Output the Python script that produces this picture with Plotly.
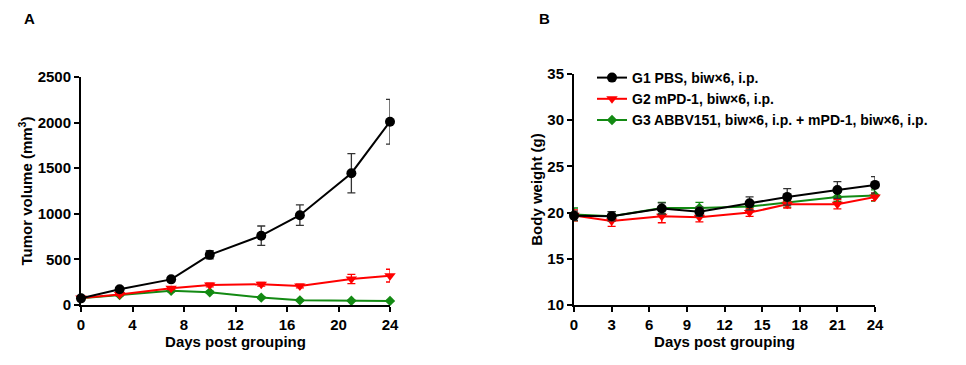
import plotly.graph_objects as go

days = [0, 3, 7, 10, 14, 17, 21, 24]

# Panel A: tumor volume (mm3)
tv_g1 = [73, 172, 281, 550, 760, 985, 1445, 2010]
tv_g1_err = [15, 20, 25, 45, 106, 113, 215, 245]
tv_g2 = [78, 115, 183, 219, 227, 208, 285, 322]
tv_g2_err = [10, 12, 15, 20, 20, 20, 50, 70]
tv_g3 = [73, 110, 157, 139, 81, 51, 47, 45]
tv_g3_err = [8, 10, 12, 12, 10, 8, 6, 6]

# Panel B: body weight (g)
bw_g1 = [19.65, 19.6, 20.45, 20.1, 21.0, 21.7, 22.45, 23.0]
bw_g1_err = [0.5, 0.5, 0.6, 0.5, 0.7, 0.9, 0.9, 0.9]
bw_g2 = [19.7, 19.1, 19.6, 19.5, 20.0, 20.9, 20.9, 21.7]
bw_g2_err = [0.6, 0.6, 0.7, 0.5, 0.4, 0.4, 0.5, 0.4]
bw_g3 = [19.8, 19.6, 20.5, 20.5, 20.65, 21.1, 21.7, 21.85]
bw_g3_err = [0.7, 0.5, 0.6, 0.6, 0.5, 0.5, 0.5, 0.6]

names = ["G1 PBS, biw×6, i.p.",
         "G2 mPD-1, biw×6, i.p.",
         "G3 ABBV151, biw×6, i.p. + mPD-1, biw×6, i.p."]
colors = ["#000000", "#ff0000", "#138a13"]
errcolors = ["#333333", "#ff0000", "#138a13"]
symbols = ["circle", "triangle-down", "diamond"]
sizes = [10, 10, 8]

fig = go.Figure()

tv = [(tv_g1, tv_g1_err), (tv_g2, tv_g2_err), (tv_g3, tv_g3_err)]
bw = [(bw_g1, bw_g1_err), (bw_g2, bw_g2_err), (bw_g3, bw_g3_err)]

order = [2, 1, 0]
for i in order:
    y, e = tv[i]
    fig.add_trace(go.Scatter(
        x=days, y=y, mode="lines+markers", name=names[i], showlegend=False,
        line=dict(color=colors[i], width=2),
        marker=dict(symbol=symbols[i], size=sizes[i], color=colors[i]),
        error_y=dict(type="data", array=e, visible=True, color=errcolors[i], thickness=1.3, width=4),
        cliponaxis=False, xaxis="x", yaxis="y"))
for i in order:
    y, e = bw[i]
    fig.add_trace(go.Scatter(
        x=days, y=y, mode="lines+markers", name=names[i], showlegend=True,
        legendrank=i + 1,
        line=dict(color=colors[i], width=2),
        marker=dict(symbol=symbols[i], size=sizes[i], color=colors[i]),
        error_y=dict(type="data", array=e, visible=True, color=errcolors[i], thickness=1.3, width=4),
        cliponaxis=False, xaxis="x2", yaxis="y2"))

W, H = 966, 365
def fx(p):
    return p / W
def fy(p):
    return (H - p) / H

FAM = "Liberation Sans, Arial"
tickfont = dict(family=FAM, size=15, color="#000", weight="bold")
titlefont = dict(family=FAM, size=15, color="#000", weight="bold")
axcommon = dict(showline=True, linecolor="#000", linewidth=2, ticks="outside", tickwidth=2,
                ticklen=5, tickcolor="#000", showgrid=False, zeroline=False, tickfont=tickfont,
                title_font=titlefont, automargin=False)

fig.update_layout(
    width=W, height=H, autosize=False,
    margin=dict(l=0, r=0, t=0, b=0),
    paper_bgcolor="white", plot_bgcolor="white",
    xaxis=dict(domain=[fx(81), fx(390)], range=[0, 24], tickvals=[0, 4, 8, 12, 16, 20, 24],
               anchor="y", title=dict(text="Days post grouping", standoff=4), **axcommon),
    yaxis=dict(domain=[fy(305), fy(77)], range=[0, 2500], tickvals=[0, 500, 1000, 1500, 2000, 2500],
               anchor="x", title=dict(text="Tumor volume (mm<sup>3</sup>)", standoff=1), **axcommon),
    xaxis2=dict(domain=[fx(574), fx(875)], range=[0, 24], tickvals=list(range(0, 25, 3)),
                anchor="y2", title=dict(text="Days post grouping", standoff=4), **axcommon),
    yaxis2=dict(domain=[fy(305), fy(74)], range=[10, 35], tickvals=[10, 15, 20, 25, 30, 35],
                anchor="x2", title=dict(text="Body weight (g)", standoff=1), **axcommon),
    legend=dict(x=fx(592), y=fy(62), xanchor="left", yanchor="top",
                font=dict(family=FAM, size=14, color="#000", weight="bold"),
                bgcolor="rgba(0,0,0,0)", itemwidth=30, tracegroupgap=0, traceorder="normal"),
    annotations=[
        dict(text="A", x=fx(22), y=fy(18), xref="paper", yref="paper", showarrow=False,
             xanchor="left", yanchor="middle",
             font=dict(family=FAM, size=15, color="#000", weight="bold")),
        dict(text="B", x=fx(537), y=fy(18), xref="paper", yref="paper", showarrow=False,
             xanchor="left", yanchor="middle",
             font=dict(family=FAM, size=15, color="#000", weight="bold")),
    ],
)

fig.write_html("out.html", config={"displayModeBar": False},
               post_script="document.body.style.margin='0';document.body.style.overflow='hidden';")
